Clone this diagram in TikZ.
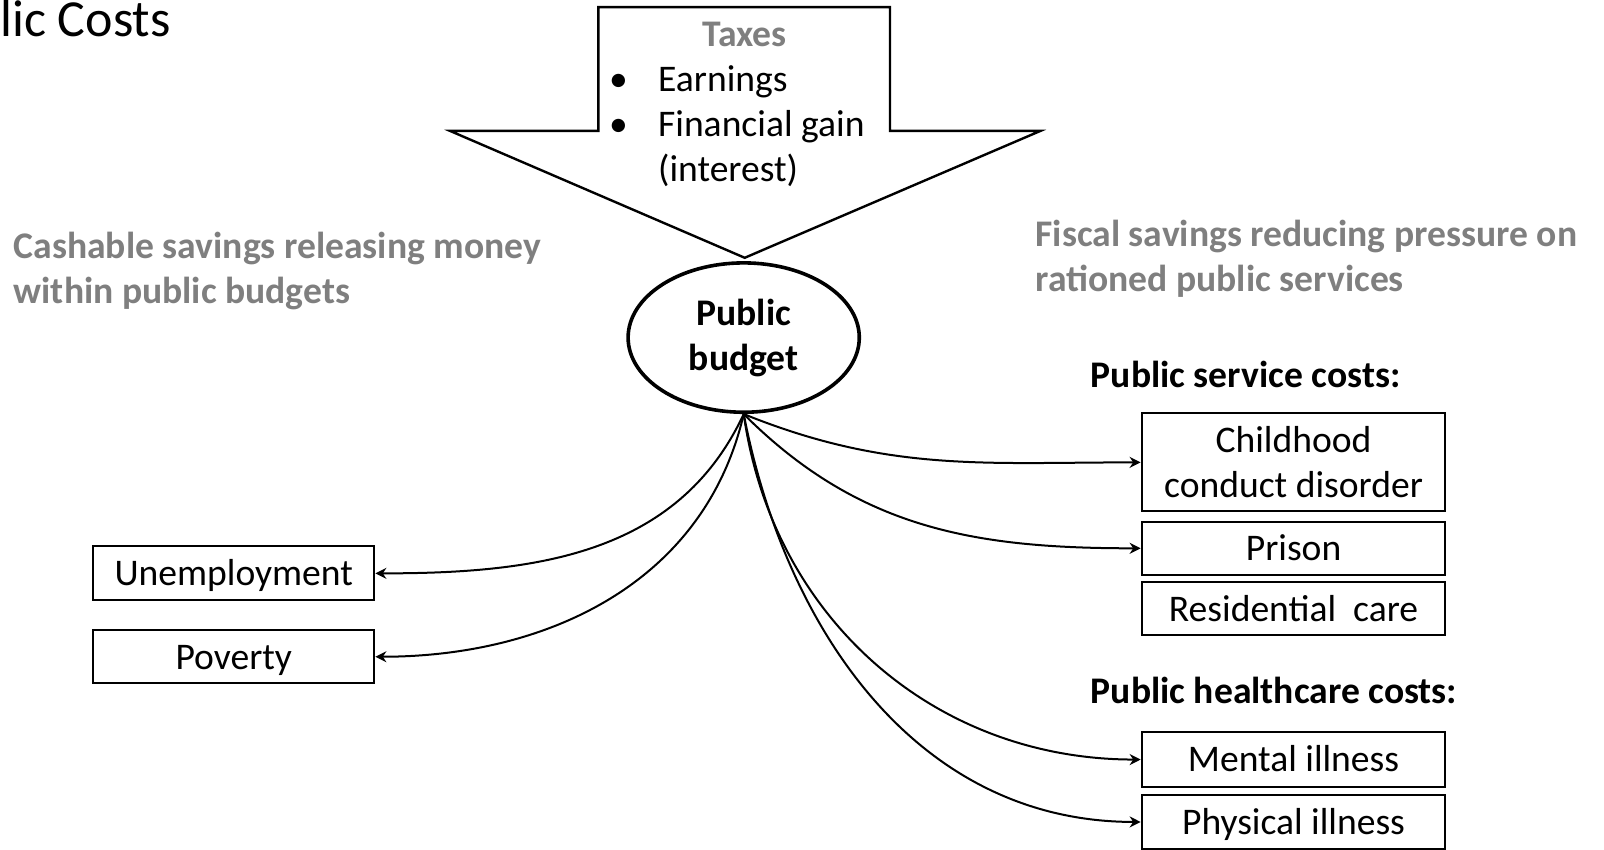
\documentclass[tikz,border=0pt]{standalone}
\usepackage{fontspec}
\setmainfont{Carlito}
\usepackage{tikz}
\usetikzlibrary{shapes.geometric}
\usetikzlibrary{arrows.meta}

\definecolor{notegray}{RGB}{127,127,127}
\newlength{\pxu}
\setlength{\pxu}{0.5115pt}
\newcommand{\bodysize}{\fontsize{18.8}{22.5}\selectfont}

\tikzset{
  costbox/.style={draw, line width=1pt, minimum width=297*\pxu, minimum height=52*\pxu, inner sep=0pt,
    text height=13pt, text depth=0.6pt},
  lossbox/.style={draw, line width=1pt, minimum width=275*\pxu, minimum height=53*\pxu, inner sep=0pt,
    text height=13pt, text depth=0.6pt},
  flow/.style={-{Stealth[length=5.5pt,width=5.5pt]}, line width=1pt},
  note/.style={text=notegray, font=\bodysize\bfseries, align=left, anchor=base west, inner sep=0pt},
  heading/.style={font=\bodysize\bfseries, anchor=base west, inner sep=0pt}
}

\begin{document}
\begin{tikzpicture}[x=\pxu, y=-\pxu, font=\bodysize]
        \useasboundingbox (0,0) rectangle (1568,830);
        \node[anchor=base west, inner sep=0pt, font=\fontsize{26}{30}\selectfont] (title) at (0, 36) {lic Costs};
        % tax arrow
        \draw[line width=1.2pt, fill=white] (585,7) -- (870,7) -- (870,128) -- (1017,128)
            -- (728,252) -- (440,128) -- (585,128) -- cycle;
        \node[text=notegray, font=\bodysize\bfseries, anchor=base, inner sep=0pt] (taxes) at (728, 45) {Taxes};
        \node[anchor=base west, inner sep=0pt] (earn) at (595, 89) {%
          \begin{tabular}[t]{@{}p{48\pxu}@{}l@{}}
            \textbullet & Earnings\\
            \textbullet & Financial gain\\
                        & (interest)
          \end{tabular}};
        \node[draw, ellipse, line width=1.8pt, minimum width=226*\pxu, minimum height=146*\pxu,
              font=\bodysize\bfseries, align=center, inner sep=0pt] (budget) at (727, 330) {Public\\budget};
        % the two kinds of savings
        \node[note] (cash) at (13, 297) {Cashable savings releasing money\\within public budgets};
        \node[note] (fiscal) at (1012, 285) {Fiscal savings reducing pressure on\\rationed public services};
        \node[heading] (serv) at (1066, 379) {Public service costs:};
        \node[heading] (health) at (1066, 688) {Public healthcare costs:};
        \node[costbox, minimum height=96*\pxu, text height={}, text depth={}, align=center] (child) at (1264.5, 452) {Childhood\\conduct disorder};
        \node[costbox] (prison) at (1264.5, 536) {Prison};
        \node[costbox] (resid) at (1264.5, 595) {Residential\ \ care};
        \node[costbox, minimum height=53*\pxu] (mental) at (1264.5, 742.5) {Mental illness};
        \node[costbox, minimum height=53*\pxu] (phys) at (1264.5, 803.5) {Physical illness};
        \node[lossbox] (unemp) at (228.5, 560.5) {Unemployment};
        \node[lossbox, minimum height=52*\pxu] (pov) at (228.5, 642) {Poverty};
        \draw[flow] (budget.south) to[out=-115, in=0] (unemp.east);
        \draw[flow] (budget.south) to[out=-103, in=0] (pov.east);
        \draw[flow] (budget.south) to[out=-22, in=180] (child.west);
        \draw[flow] (budget.south) to[out=-45, in=180] (prison.west);
        \draw[flow] (budget.south) to[out=-82, in=180] (mental.west);
        \draw[flow] (budget.south) to[out=-79, in=180] (phys.west);
    \end{tikzpicture}
\end{document}
